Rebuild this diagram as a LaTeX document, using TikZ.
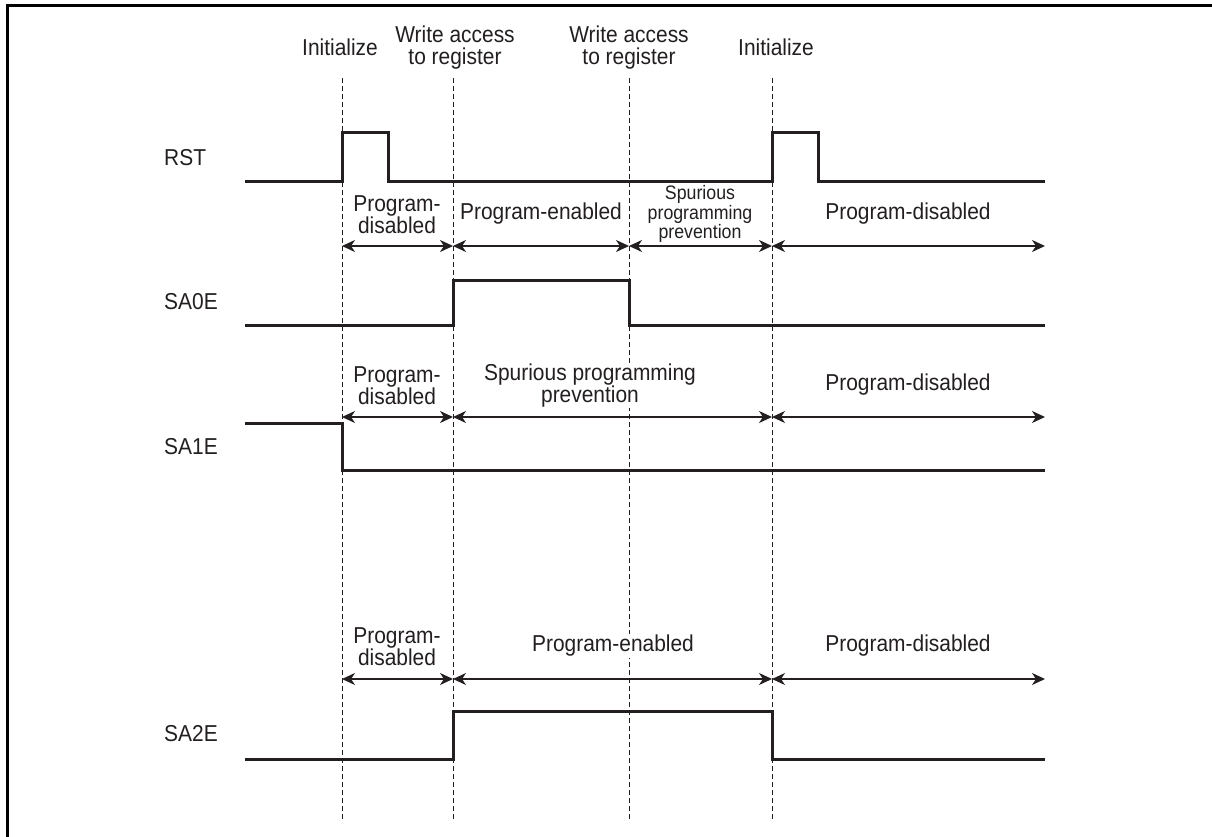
\documentclass[tikz,border=0pt]{standalone}
\usepackage{fontspec}
\setmainfont[FakeStretch=0.91]{Liberation Sans}
\usetikzlibrary{arrows.meta}
\definecolor{ink}{HTML}{231F20}
\begin{document}
\begin{tikzpicture}[x=1pt,y=-1pt,
  sig/.style={line width=3pt, draw=ink, line join=miter},
  guide/.style={line width=1pt, draw=ink, dash pattern=on 5pt off 3pt},
  span/.style={line width=1.5pt, draw=ink, {Stealth[length=13pt,width=12pt,inset=4pt]}-{Stealth[length=13pt,width=12pt,inset=4pt]}},
  lbl/.style={font=\fontsize{23}{21.5}\selectfont, align=center, inner sep=1pt, fill=white, text=ink},
  sm/.style={font=\fontsize{19.5}{17}\selectfont, align=center, inner sep=1pt, fill=white, text=ink},
  sname/.style={font=\fontsize{23}{21.5}\selectfont, anchor=west, inner sep=0pt, text=ink},
  frame/.style={line width=3pt, draw=black}]
\useasboundingbox (0,0) rectangle (1212,837);
% frame (left and top only)
\draw[frame] (1212,6) -- (7.5,6) -- (7.5,837);

% guide lines
\foreach \n/\x in {a/342,b/453,c/629,d/772}{
  \coordinate (\n top) at (\x,78);
  \coordinate (\n bot) at (\x,820);
  \draw[guide] (\n top) -- (\n bot);
}

% top labels
\node[lbl] (init1) at (340,47) {Initialize};
\node[lbl] (wr1) at (455,47.5) {Write access\\to register};
\node[lbl] (wr2) at (629,47.5) {Write access\\to register};
\node[lbl] (init2) at (776,47) {Initialize};

% signal names
\node[sname] (rst) at (164,158) {RST};
\node[sname] (sa0e) at (164,302) {SA0E};
\node[sname] (sa1e) at (164,447) {SA1E};
\node[sname] (sa2e) at (164,734) {SA2E};

% RST
\draw[sig] (245,182) -- (342,182) -- (342,133) -- (388,133) -- (388,182) -- (772,182) -- (772,133) -- (818,133) -- (818,182) -- (1045,182);

% row 1 spans
\coordinate (r1a) at (342,246);
\coordinate (r1b) at (453,246);
\coordinate (r1c) at (629,246);
\coordinate (r1d) at (772,246);
\coordinate (r1e) at (1045,246);
\draw[span] (r1a) -- (r1b);
\draw[span] (r1b) -- (r1c);
\draw[span] (r1c) -- (r1d);
\draw[span] (r1d) -- (r1e);
\node[lbl] (l11) at (397,214.5) {Program-\\disabled};
\node[lbl] (l12) at (541,214) {Program-enabled};
\node[sm] (l13) at (700,214) {Spurious\\programming\\prevention};
\node[lbl] (l14) at (908,214) {Program-disabled};

% SA0E
\draw[sig] (245,325) -- (453,325) -- (453,280) -- (629,280) -- (629,325) -- (1045,325);

% row 2 spans
\coordinate (r2a) at (342,417);
\coordinate (r2b) at (453,417);
\coordinate (r2d) at (772,417);
\coordinate (r2e) at (1045,417);
\draw[span] (r2a) -- (r2b);
\draw[span] (r2b) -- (r2d);
\draw[span] (r2d) -- (r2e);
\node[lbl] (l21) at (397,385.5) {Program-\\disabled};
\node[lbl] (l22) at (590,385.5) {Spurious programming\\prevention};
\node[lbl] (l23) at (908,385) {Program-disabled};

% SA1E
\draw[sig] (245,423) -- (342,423) -- (342,470) -- (1045,470);

% row 3 spans
\coordinate (r3a) at (342,679);
\coordinate (r3b) at (453,679);
\coordinate (r3d) at (772,679);
\coordinate (r3e) at (1045,679);
\draw[span] (r3a) -- (r3b);
\draw[span] (r3b) -- (r3d);
\draw[span] (r3d) -- (r3e);
\node[lbl] (l31) at (397,646.5) {Program-\\disabled};
\node[lbl] (l32) at (613,646) {Program-enabled};
\node[lbl] (l33) at (908,646) {Program-disabled};

% SA2E
\draw[sig] (245,759) -- (453,759) -- (453,711) -- (772,711) -- (772,759) -- (1045,759);
\end{tikzpicture}
\end{document}
